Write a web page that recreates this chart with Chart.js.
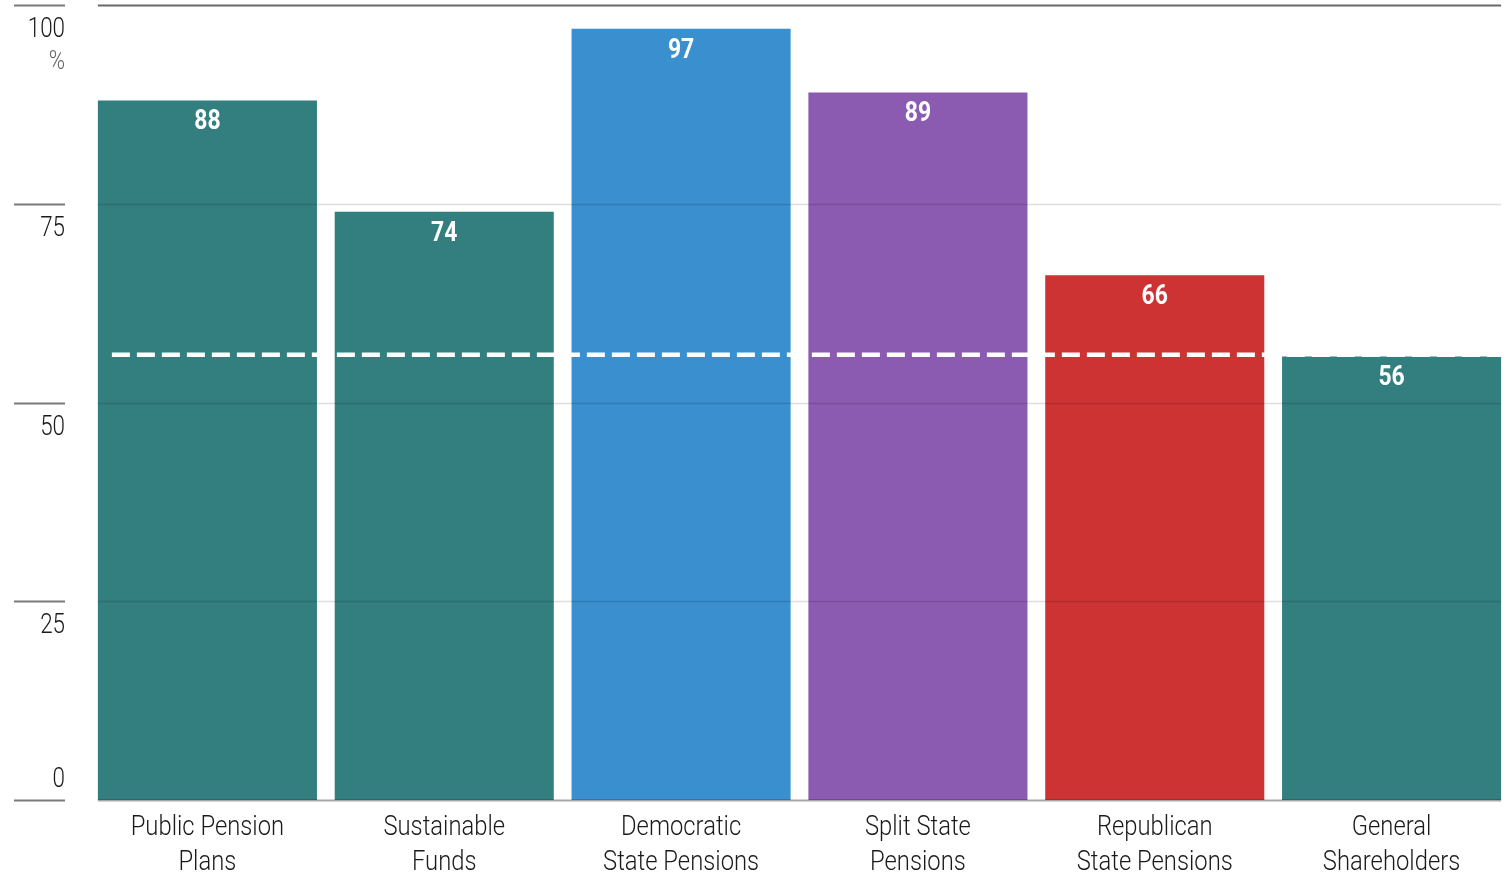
<!DOCTYPE html>
<html>
<head>
<meta charset="utf-8">
<script src="https://cdn.jsdelivr.net/npm/chart.js@4.4.1/dist/chart.umd.min.js"></script>
<style>
  html, body { margin: 0; padding: 0; background: #fff; overflow: hidden; }
  #wrap { width: 1510px; height: 878px; position: relative; }
</style>
</head>
<body>
<div id="wrap"><canvas id="supportChart"></canvas></div>
<script>
const categories = [
  ["Public Pension", "Plans"],
  ["Sustainable", "Funds"],
  ["Democratic", "State Pensions"],
  ["Split State", "Pensions"],
  ["Republican", "State Pensions"],
  ["General", "Shareholders"]
];
const support = [88, 74, 97, 89, 66, 55.8];
const barColors = ["#337e7e", "#337e7e", "#3a8fcf", "#8b5ab1", "#cd3333", "#337e7e"];
const yTicks = [0, 25, 50, 75, 100];
const benchmark = 56;

const FONT = "Roboto, 'DejaVu Sans', sans-serif";

// draw text squeezed horizontally to mimic a condensed face
function condensed(ctx, text, x, y, sx) {
  ctx.save();
  ctx.translate(x, y);
  ctx.scale(sx, 1);
  ctx.fillText(text, 0, 0);
  ctx.restore();
}

const overlay = {
  id: "overlay",
  afterDatasetsDraw(chart) {
    const { ctx, chartArea, scales: { x, y } } = chart;
    const meta = chart.getDatasetMeta(0);
    const first = meta.data[0];
    const last = meta.data[meta.data.length - 1];
    const x0 = first.x - first.width / 2;
    const x1 = last.x + last.width / 2;
    ctx.save();

    yTicks.forEach((t) => {
      const py = Math.round(y.getPixelForValue(t)) + 0.5;
      ctx.strokeStyle = "#7a7a7a";
      ctx.lineWidth = 2;
      ctx.beginPath();
      ctx.moveTo(14, py);
      ctx.lineTo(65, py);
      ctx.stroke();

      if (t === 100) {
        ctx.strokeStyle = "#6a6a6a";
        ctx.lineWidth = 2;
      } else if (t === 0) {
        ctx.strokeStyle = "rgba(0,0,0,0.35)";
        ctx.lineWidth = 2;
      } else {
        ctx.strokeStyle = "rgba(0,0,0,0.13)";
        ctx.lineWidth = 1.5;
      }
      ctx.beginPath();
      ctx.moveTo(x0, py);
      ctx.lineTo(x1, py);
      ctx.stroke();

      ctx.fillStyle = "#1a1a1a";
      ctx.font = "300 28px " + FONT;
      ctx.textAlign = "right";
      ctx.textBaseline = "middle";
      const ly = t === 0 ? py - 21 : py + 24;
      condensed(ctx, String(t), 65, ly, 0.8);
      if (t === 100) {
        ctx.fillStyle = "#666";
        ctx.font = "300 26px " + FONT;
        condensed(ctx, "%", 65, ly + 33, 0.85);
      }
    });

    // benchmark dashed line
    const by = y.getPixelForValue(benchmark);
    ctx.strokeStyle = "#ffffff";
    ctx.lineWidth = 4.5;
    ctx.setLineDash([18, 7]);
    ctx.beginPath();
    ctx.moveTo(x0 + 14, by);
    ctx.lineTo(x1, by);
    ctx.stroke();
    ctx.setLineDash([]);

    // value labels
    ctx.fillStyle = "#fff";
    ctx.font = "bold 28px " + FONT;
    ctx.textAlign = "center";
    ctx.textBaseline = "middle";
    meta.data.forEach((bar, i) => {
      condensed(ctx, String(Math.round(support[i])), bar.x, bar.y + 22, 0.82);
    });

    // category labels
    ctx.fillStyle = "#1a1a1a";
    ctx.font = "300 28px " + FONT;
    categories.forEach((lines, i) => {
      const cx = x.getPixelForValue(i);
      lines.forEach((ln, j) => {
        condensed(ctx, ln, cx, chartArea.bottom + 28 + j * 35, 0.85);
      });
    });
    ctx.restore();
  }
};

new Chart(document.getElementById("supportChart"), {
  type: "bar",
  data: {
    labels: categories,
    datasets: [
      {
        data: support,
        backgroundColor: barColors,
        borderWidth: 0,
        barPercentage: 0.925,
        categoryPercentage: 1
      }
    ]
  },
  options: {
    responsive: true,
    maintainAspectRatio: false,
    animation: false,
    layout: { padding: { left: 89, right: 0, top: 5, bottom: 0 } },
    plugins: {
      legend: { display: false },
      tooltip: { enabled: false }
    },
    scales: {
      x: {
        grid: { display: false, drawTicks: false },
        border: { display: false },
        ticks: { display: false },
        afterFit: (s) => { s.height = 78; }
      },
      y: {
        display: false,
        min: 0,
        max: 100
      }
    }
  },
  plugins: [overlay]
});
</script>
</body>
</html>
